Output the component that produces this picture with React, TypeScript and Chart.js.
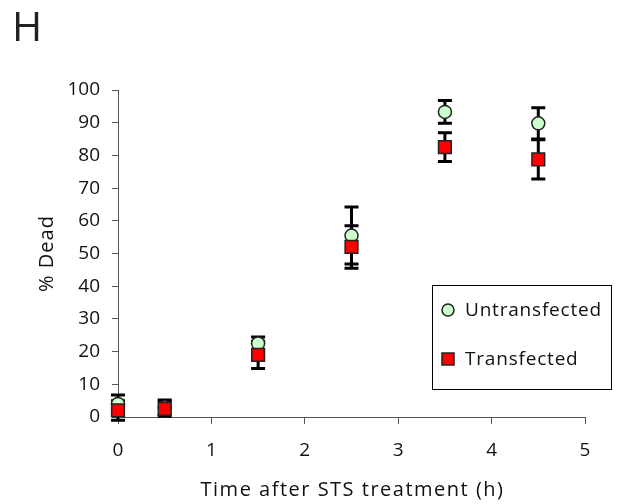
import React, { useEffect, useRef } from "react";
import { Chart, registerables } from "chart.js";

Chart.register(...registerables);

const panelLabel = "H";
const xValues = [0, 0.5, 1.5, 2.5, 3.5, 4.5];
const untransfected = [4, 3, 22.5, 55.5, 93.3, 89.8];
const untransfectedErr = [2.7, 2.2, 2, 8.7, 3.5, 4.8];
const transfected = [2, 2.5, 19, 52, 82.5, 78.8];
const transfectedErr = [3, 2.3, 4.2, 6.5, 4.4, 6];
const seriesLabels = ["Untransfected", "Transfected"];
const xTitle = "Time after STS treatment (h)";
const yTitle = "% Dead";

const FONT = "'Open Sans', 'DejaVu Sans', sans-serif";

const errorBarPlugin = {
  id: "errorBars",
  beforeDatasetsDraw(chart: any) {
    const { ctx, scales } = chart;
    const xs = scales.x;
    const ys = scales.y;
    ctx.save();
    ctx.strokeStyle = "#000";
    ctx.lineWidth = 3;
    ctx.lineCap = "butt";
    chart.data.datasets.forEach((ds: any) => {
      const errs: number[] = ds.errors || [];
      ds.data.forEach((p: any, i: number) => {
        const e = errs[i];
        if (e == null) return;
        const px = xs.getPixelForValue(p.x);
        const top = ys.getPixelForValue(p.y + e);
        const bot = ys.getPixelForValue(p.y - e);
        const half = 7;
        ctx.beginPath();
        ctx.moveTo(px, top);
        ctx.lineTo(px, bot);
        ctx.moveTo(px - half, top);
        ctx.lineTo(px + half, top);
        ctx.moveTo(px - half, bot);
        ctx.lineTo(px + half, bot);
        ctx.stroke();
      });
    });
    ctx.restore();
  },
};

const decorPlugin = {
  id: "decor",
  afterDraw(chart: any) {
    const { ctx, chartArea } = chart;
    ctx.save();
    // panel label
    ctx.fillStyle = "#222";
    ctx.font = `400 41px ${FONT}`;
    ctx.textAlign = "left";
    ctx.textBaseline = "alphabetic";
    ctx.fillText(panelLabel, 12, 41);

    // x axis title (drawn with the wide letter spacing of the original)
    ctx.fillStyle = "#111";
    ctx.font = `20px ${FONT}`;
    (ctx as any).letterSpacing = "1.5px";
    ctx.textAlign = "center";
    ctx.textBaseline = "middle";
    ctx.fillText(xTitle, (chartArea.left + chartArea.right) / 2 + 1, 490);

    // y axis title
    (ctx as any).letterSpacing = "1px";
    ctx.save();
    ctx.translate(47, (chartArea.top + chartArea.bottom) / 2);
    ctx.rotate(-Math.PI / 2);
    ctx.fillText(yTitle, 0, 0);
    ctx.restore();

    // legend box
    (ctx as any).letterSpacing = "0.8px";
    const bx = 432.5, by = 285.5, bw = 179, bh = 104;
    ctx.strokeStyle = "#000";
    ctx.lineWidth = 1;
    ctx.strokeRect(bx, by, bw, bh);
    const rows = [310, 359];
    chart.data.datasets.forEach((ds: any, i: number) => {
      const cy = rows[i];
      const cx = 448;
      ctx.fillStyle = ds.backgroundColor;
      ctx.strokeStyle = ds.borderColor;
      ctx.lineWidth = 1.5;
      ctx.beginPath();
      if (ds.pointStyle === "circle") {
        ctx.arc(cx, cy, 6, 0, Math.PI * 2);
      } else {
        ctx.rect(cx - 6, cy - 6, 12, 12);
      }
      ctx.fill();
      ctx.stroke();
      ctx.fillStyle = "#111";
      ctx.font = `19px ${FONT}`;
      ctx.textAlign = "left";
      ctx.textBaseline = "middle";
      ctx.fillText(ds.label, 465, cy + 1);
    });
    ctx.restore();
  },
};

export default function App() {
  const ref = useRef<HTMLCanvasElement | null>(null);

  useEffect(() => {
    document.body.style.margin = "0";
    if (!ref.current) return;
    const chart = new Chart(ref.current, {
      type: "scatter",
      data: {
        datasets: [
          {
            label: seriesLabels[0],
            data: xValues.map((x, i) => ({ x, y: untransfected[i] })),
            errors: untransfectedErr,
            pointStyle: "circle",
            pointRadius: 6.5,
            pointHoverRadius: 6.5,
            backgroundColor: "#ccffcc",
            borderColor: "#222",
            pointBorderWidth: 1.5,
            clip: false,
            order: 1,
          } as any,
          {
            label: seriesLabels[1],
            data: xValues.map((x, i) => ({ x, y: transfected[i] })),
            errors: transfectedErr,
            pointStyle: "rect",
            pointRadius: 9,
            pointHoverRadius: 9,
            backgroundColor: "#ff0000",
            borderColor: "#222",
            pointBorderWidth: 1.5,
            clip: false,
            order: 0,
          } as any,
        ],
      },
      options: {
        responsive: false,
        animation: false,
        events: [],
        layout: { padding: { top: 90, right: 38, left: 0, bottom: 0 } },
        plugins: {
          legend: { display: false },
          tooltip: { enabled: false },
          title: { display: false },
        },
        scales: {
          x: {
            type: "linear",
            min: 0,
            max: 5,
            afterFit: (s: any) => {
              s.height = 87;
            },
            ticks: {
              stepSize: 1,
              color: "#111",
              font: { family: FONT, size: 19 },
              padding: 15,
            },
            grid: {
              display: true,
              drawOnChartArea: false,
              drawTicks: true,
              tickLength: 7,
              color: "#555",
            },
            border: { display: true, color: "#555", width: 1 },
            title: { display: false, text: xTitle },
          },
          y: {
            type: "linear",
            min: 0,
            max: 100,
            afterFit: (s: any) => {
              s.width = 118;
            },
            ticks: {
              stepSize: 10,
              color: "#111",
              font: { family: FONT, size: 19 },
              padding: 12,
            },
            grid: {
              display: true,
              drawOnChartArea: false,
              drawTicks: true,
              tickLength: 6,
              color: "#555",
            },
            border: { display: true, color: "#555", width: 1 },
            title: { display: false, text: yTitle },
          },
        },
      },
      plugins: [errorBarPlugin, decorPlugin],
    });
    return () => chart.destroy();
  }, []);

  return (
    <div style={{ width: 623, height: 504, background: "#fff" }}>
      <canvas ref={ref} width={623} height={504} />
    </div>
  );
}
